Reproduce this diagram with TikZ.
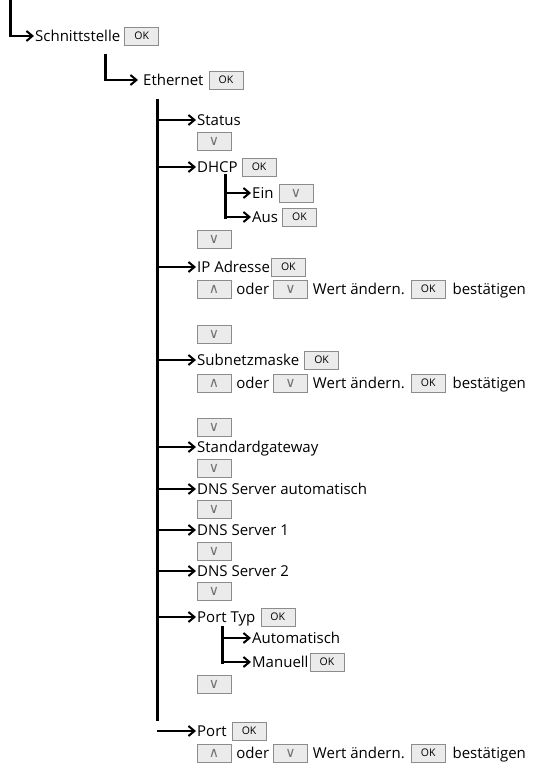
\documentclass[tikz,border=0pt]{standalone}
\usepackage{fontspec}
\setmainfont{Open Sans}
\newfontfamily\keyfont{DejaVu Sans}
\usetikzlibrary{arrows.meta,positioning}
\tikzset{
  menu/item/.style={inner xsep=1pt, inner ysep=0pt, anchor=west, font=\fontsize{15}{17}\selectfont, text height=12pt, text depth=1pt},
  menu/button/.style={draw=black!45, fill=black!8, minimum width=34pt, minimum height=18pt, inner sep=0pt, font=\fontsize{10.5}{11}\selectfont},
  menu/key/.style={menu/button, font=\keyfont\fontsize{14}{15}\selectfont, text=black!55},
  menu/trunk/.style={line width=3pt, line cap=rect},
  menu/link/.style={line width=2pt, -{Straight Barb[length=6pt,width=10pt,line width=2pt]}}
}
% one line: up oder down Wert aendern. OK bestaetigen
\newcommand\editrow[2]{%
  \node[menu/key] (#1up) at (214,#2) {∧};
  \node[menu/item, right=4pt of #1up] (#1or) {oder};
  \node[menu/key, right=3pt of #1or] (#1dn) {∨};
  \node[menu/item, right=4pt of #1dn] (#1txt) {Wert ändern.};
  \node[menu/button, right=5pt of #1txt] (#1ok) {OK};
  \node[menu/item, right=6pt of #1ok] (#1end) {bestätigen};
}

\begin{document}
\begin{tikzpicture}[x=1pt, y=-1pt]
  \useasboundingbox (0,0) rectangle (544,773);

  % Schnittstelle
  \coordinate (root) at (10,0);
  \node[menu/item] (iface) at (34,36) {Schnittstelle};
  \node[menu/button, right=3pt of iface] (ifaceok) {OK};
  \draw[menu/trunk] (root) -- (root |- iface.west);
  \draw[menu/link] (root |- iface.west) -- (iface.west);

  % Ethernet
  \coordinate (ifacebr) at (105,56);
  \node[menu/item] (eth) at (142,80) {Ethernet};
  \node[menu/button, right=4pt of eth] (ethok) {OK};
  \draw[menu/trunk] (ifacebr) -- (ifacebr |- eth.west);
  \draw[menu/link, shorten >=4pt] (ifacebr |- eth.west) -- (eth.west);

  % main menu
  \coordinate (ethbr) at (157,101);
  \coordinate (ethend) at (157,719);
  \draw[menu/trunk] (ethbr) -- (ethend);

  \node[menu/item] (status) at (196,120) {Status};
  \node[menu/key] (statusdn) at (214,141) {∨};

  \node[menu/item] (dhcp) at (196,167) {DHCP};
  \node[menu/button, right=3pt of dhcp] (dhcpok) {OK};
  \coordinate (dhcpbr) at (225,175);
  \node[menu/item] (ein) at (251,193) {Ein};
  \node[menu/key, right=4pt of ein] (eindn) {∨};
  \node[menu/item] (aus) at (251,217) {Aus};
  \node[menu/button, right=3pt of aus] (ausok) {OK};
  \draw[menu/trunk] (dhcpbr) -- (dhcpbr |- aus.west);
  \draw[menu/link] (dhcpbr |- ein.west) -- (ein.west);
  \draw[menu/link] (dhcpbr |- aus.west) -- (aus.west);
  \node[menu/key] (dhcpdn) at (214,239) {∨};

  \node[menu/item] (ip) at (196,267) {IP Adresse};
  \node[menu/button, right=0pt of ip] (ipok) {OK};
  \editrow{ip}{289}
  \node[menu/key] (ipdn) at (214,334) {∨};

  \node[menu/item] (mask) at (196,360) {Subnetzmaske};
  \node[menu/button, right=4pt of mask] (maskok) {OK};
  \editrow{mask}{383}
  \node[menu/key] (maskdn) at (214,427) {∨};

  \node[menu/item] (gw) at (196,447) {Standardgateway};
  \node[menu/key] (gwdn) at (214,468) {∨};

  \node[menu/item] (dnsauto) at (196,489) {DNS Server automatisch};
  \node[menu/key] (dnsautodn) at (214,509) {∨};

  \node[menu/item] (dnsa) at (196,530) {DNS Server 1};
  \node[menu/key] (dnsadn) at (214,551) {∨};

  \node[menu/item] (dnsb) at (196,571) {DNS Server 2};
  \node[menu/key] (dnsbdn) at (214,591) {∨};

  \node[menu/item] (ptype) at (196,617) {Port Typ};
  \node[menu/button, right=4pt of ptype] (ptypeok) {OK};
  \coordinate (ptypebr) at (222,627);
  \node[menu/item] (auto) at (251,638) {Automatisch};
  \node[menu/item] (manual) at (251,662) {Manuell};
  \node[menu/button, right=0pt of manual] (manualok) {OK};
  \draw[menu/trunk] (ptypebr) -- (ptypebr |- manual.west);
  \draw[menu/link] (ptypebr |- auto.west) -- (auto.west);
  \draw[menu/link] (ptypebr |- manual.west) -- (manual.west);
  \node[menu/key] (ptypedn) at (214,684) {∨};

  \foreach \sub in {status,dhcp,ip,mask,gw,dnsauto,dnsa,dnsb,ptype}
    \draw[menu/link] (ethbr |- \sub.west) -- (\sub.west);

  % Port
  \coordinate (portbr) at (157,731);
  \node[menu/item] (port) at (196,731) {Port};
  \node[menu/button, right=4pt of port] (portok) {OK};
  \draw[menu/link] (portbr) -- (port.west);
  \editrow{port}{753}
\end{tikzpicture}
\end{document}
